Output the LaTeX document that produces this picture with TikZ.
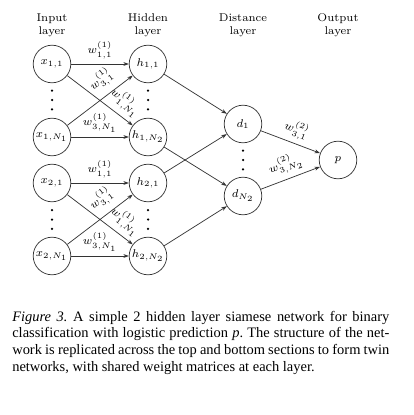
\documentclass[tikz,border=0pt]{standalone}
\usepackage{fontspec}
\newfontfamily\capfont{Liberation Serif}
\usetikzlibrary{arrows.meta}
\begin{document}
\begin{tikzpicture}[x=0.6225pt,y=-0.6225pt,
  neuron/.style={circle,draw=black!80,line width=0.45pt,minimum size=23.4pt,inner sep=0pt,font=\fontsize{7}{8.4}\selectfont},
  conn/.style={draw=black!80,line width=0.45pt,-{Stealth[length=3.4pt,width=2.4pt]}},
  wlbl/.style={font=\fontsize{7}{8.4}\selectfont,inner sep=2.8pt},
  head/.style={align=center,font=\fontsize{7}{8.4}\selectfont,anchor=base,inner sep=0pt},
]
\useasboundingbox (0,0) rectangle (413,415);
% headers
\node[head] (hin)  at (52,34.5)  {Input\\layer};
\node[head] (hhid) at (148,34.5) {Hidden\\layer};
\node[head] (hdis) at (243,34.5) {Distance\\layer};
\node[head] (hout) at (338,34.5) {Output\\layer};
% neurons
\node[neuron] (x11) at (52,64)  {$x_{1,1}$};
\node[neuron] (x1N) at (52,137) {$x_{1,N_1}$};
\node[neuron] (x21) at (52,183) {$x_{2,1}$};
\node[neuron] (x2N) at (52,256) {$x_{2,N_1}$};
\node[neuron] (h11) at (148,64)  {$h_{1,1}$};
\node[neuron] (h1N) at (148,137) {$h_{1,N_2}$};
\node[neuron] (h21) at (148,183) {$h_{2,1}$};
\node[neuron] (h2N) at (148,256) {$h_{2,N_2}$};
\node[neuron] (d1) at (243,124) {$d_1$};
\node[neuron] (dN) at (243,196) {$d_{N_2}$};
\node[neuron] (p) at (338,160) {$p$};
% vertical dots
\foreach \cx/\cy in {52/100,148/100,52/219.5,148/219.5,243/160}{
  \foreach \dy in {-9.3,0,9.3}{\fill (\cx,\cy+\dy) circle (1.25);}
}
% first layer, top block
\draw[conn] (x11) -- node[wlbl,above] {$w^{(1)}_{1,1}$} (h11);
\draw[conn] (x11) -- node[wlbl,pos=0.76,sloped,above] {$w^{(1)}_{1,N_1}$} (h1N);
\draw[conn] (x1N) -- node[wlbl,pos=0.66,sloped,above,inner sep=4.2pt] {$w^{(1)}_{3,1}$} (h11);
\draw[conn] (x1N) -- node[wlbl,above] {$w^{(1)}_{3,N_1}$} (h1N);
% first layer, bottom block
\draw[conn] (x21) -- node[wlbl,above] {$w^{(1)}_{1,1}$} (h21);
\draw[conn] (x21) -- node[wlbl,pos=0.76,sloped,above] {$w^{(1)}_{1,N_1}$} (h2N);
\draw[conn] (x2N) -- node[wlbl,pos=0.66,sloped,above,inner sep=4.2pt] {$w^{(1)}_{3,1}$} (h21);
\draw[conn] (x2N) -- node[wlbl,above] {$w^{(1)}_{3,N_1}$} (h2N);
% distance layer
\draw[conn] (h11) -- (d1);
\draw[conn] (h21) -- (d1);
\draw[conn] (h1N) -- (dN);
\draw[conn] (h2N) -- (dN);
% output
\draw[conn] (d1) -- node[wlbl,pos=0.52,sloped,above] {$w^{(2)}_{3,1}$} (p);
\draw[conn] (dN) -- node[wlbl,pos=0.5,sloped,above] {$w^{(2)}_{3,N_2}$} (p);
% caption
\node[anchor=base west,text width=234.7pt,align=justify,inner sep=0pt,
      font=\capfont\fontsize{9}{10.5}\selectfont\frenchspacing] (cap) at (12,321)
  {\textit{Figure 3.} A simple 2 hidden layer siamese network for binary\linebreak
   classification with logistic prediction \textit{p}. The structure of the net-\linebreak
   work is replicated across the top and bottom sections to form twin\linebreak
   networks, with shared weight matrices at each layer.};
\end{tikzpicture}
\end{document}
